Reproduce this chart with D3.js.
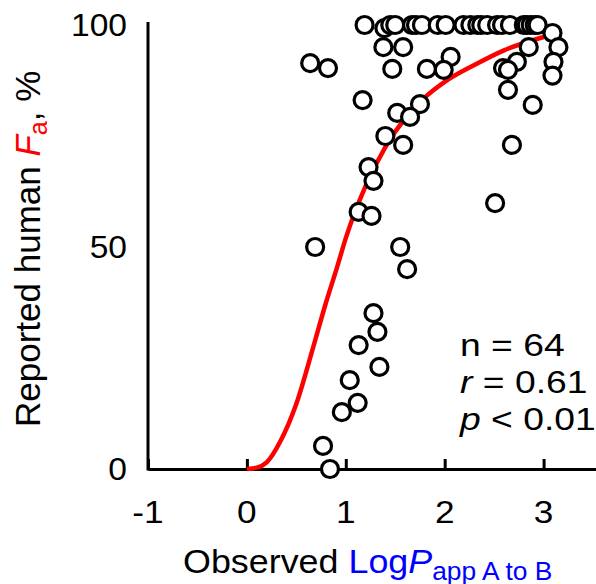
<!DOCTYPE html>
<html>
<head>
<meta charset="utf-8">
<script src="https://cdn.jsdelivr.net/npm/d3@7"></script>
<style>
  body { margin: 0; background: #fff; }
  text { font-family: Arial, "Liberation Sans", sans-serif; fill: #000; }
</style>
</head>
<body>
<script>
// chart data
const logPapp = [
  1.19, 1.39, 1.45, 1.50, 1.67, 1.71, 1.77, 1.93, 2.01, 2.19, 2.26, 2.33, 2.37, 2.43, 2.53,
  2.58, 2.66, 2.80, 2.83, 2.87, 2.91, 2.94,
  3.09, 3.15, 2.85, 3.10, 2.06, 2.73, 2.59, 2.64, 1.99, 3.09, 2.64, 2.89,
  1.38, 1.58, 0.64, 0.82, 1.47, 1.82, 1.17, 1.75, 1.52, 1.65, 1.40, 1.58,
  1.23, 1.28, 1.13, 1.26, 0.69, 1.55, 1.62, 2.68, 2.51,
  1.28, 1.32, 1.13, 1.34, 1.04, 1.12, 0.96, 0.77, 0.84
];
const humanFa = [
  100, 99.3, 100, 100, 100, 100, 100, 100, 100, 100, 100, 100, 100, 100, 100,
  100, 100, 100, 100, 100, 100, 100,
  98.2, 95.0, 95.0, 91.7, 92.8, 91.7, 90.3, 89.9, 89.9, 88.6, 85.4, 82.0,
  95.0, 95.0, 91.4, 90.3, 90.1, 90.1, 83.1, 82.2, 80.2, 79.3, 75.0, 73.0,
  68.0, 64.9, 57.9, 57.0, 50.0, 50.0, 45.0, 73.0, 59.9,
  35.1, 30.9, 27.9, 23.0, 20.0, 14.9, 12.8, 5.2, 0
];

// fitted curve
const fitX = [0, 0.1, 0.2, 0.34, 0.5, 0.67, 0.8, 0.91, 1.0, 1.2, 1.4, 1.6, 1.8, 2.0, 2.3, 2.6, 3.0];
const fitY = [0, 0.3, 1.5, 6.3, 14.7, 27.4, 37.5, 45.3, 52.0, 63.7, 72.5, 79.0, 83.7, 87.2, 91.0, 94.3, 97.3];

const xTicks = [-1, 0, 1, 2, 3];
const yTicks = [0, 50, 100];
const stats = ['n = 64', 'r = 0.61', 'p < 0.01'];

// setup
const width = 596, height = 584;
const svg = d3.select('body').append('svg')
  .attr('width', width)
  .attr('height', height);

const x = d3.scaleLinear().domain([-1, 3.53]).range([148, 596]);
const y = d3.scaleLinear().domain([0, 100]).range([469, 25]);

const fontSize = 32;

// axes
svg.append('line')
  .attr('x1', x(-1)).attr('x2', x(-1))
  .attr('y1', y(0) + 1.5).attr('y2', y(100) - 3)
  .attr('stroke', '#000').attr('stroke-width', 3);

const xAxis = d3.axisBottom(x).tickValues(xTicks).tickSize(0).tickFormat('');
const gx = svg.append('g').attr('transform', `translate(0,${y(0)})`).call(xAxis);
gx.select('.domain').attr('stroke', '#000').attr('stroke-width', 3);
gx.selectAll('.tick').append('line')
  .attr('y1', 0).attr('y2', -10)
  .attr('stroke', '#000').attr('stroke-width', 3);

// tick labels (the original is a bit wider than Arial)
svg.selectAll('.xlab').data(xTicks).enter().append('text')
  .attr('transform', (d) => `translate(${x(d)},${y(0) + 54}) scale(1.1,1)`)
  .attr('text-anchor', 'middle')
  .attr('font-size', fontSize)
  .text((d) => d);

svg.selectAll('.ylab').data(yTicks).enter().append('text')
  .attr('transform', (d) => `translate(127,${y(d) + 11}) scale(1.05,1)`)
  .attr('text-anchor', 'end')
  .attr('font-size', fontSize)
  .text((d) => d);

// fitted curve
const line = d3.line()
  .x((d, i) => x(fitX[i]))
  .y((d) => y(d))
  .curve(d3.curveMonotoneX);

svg.append('path')
  .datum(fitY)
  .attr('d', line)
  .attr('fill', 'none')
  .attr('stroke', '#ff0000')
  .attr('stroke-width', 4.5);

// points
svg.selectAll('.pt').data(logPapp).enter().append('circle')
  .attr('cx', (d) => x(d))
  .attr('cy', (d, i) => y(humanFa[i]))
  .attr('r', 8.5)
  .attr('fill', '#fff')
  .attr('stroke', '#000')
  .attr('stroke-width', 3.2);

// statistics
const st = svg.append('g');
stats.forEach((s, i) => {
  const t = st.append('text')
    .attr('transform', `translate(460,${356 + i * 37}) scale(1.165,1)`)
    .attr('font-size', fontSize);
  if (i === 0) {
    t.text(s);
  } else {
    const parts = s.split(' ');
    t.append('tspan').attr('font-style', 'italic').text(parts[0]);
    t.append('tspan').text(' ' + parts.slice(1).join(' '));
  }
});

// x axis title
const xt = svg.append('text')
  .attr('transform', 'translate(183,573) scale(1.055,1)')
  .attr('font-size', 34);
xt.append('tspan').text('Observed ');
xt.append('tspan').style('fill', '#0000ff').text('Log');
xt.append('tspan').style('fill', '#0000ff').attr('font-style', 'italic').text('P');
xt.append('tspan').style('fill', '#0000ff').attr('font-size', 25).attr('dy', 7).text('app A to B');

// y axis title
const yt = svg.append('text')
  .attr('transform', 'translate(40,427) rotate(-90)')
  .attr('font-size', 35);
yt.append('tspan').text('Reported human ');
yt.append('tspan').style('fill', '#ff0000').attr('font-style', 'italic').text('F');
yt.append('tspan').style('fill', '#ff0000').attr('font-size', 25).attr('dy', 7).text('a');
yt.append('tspan').attr('dy', -7).text(', %');
</script>
</body>
</html>
